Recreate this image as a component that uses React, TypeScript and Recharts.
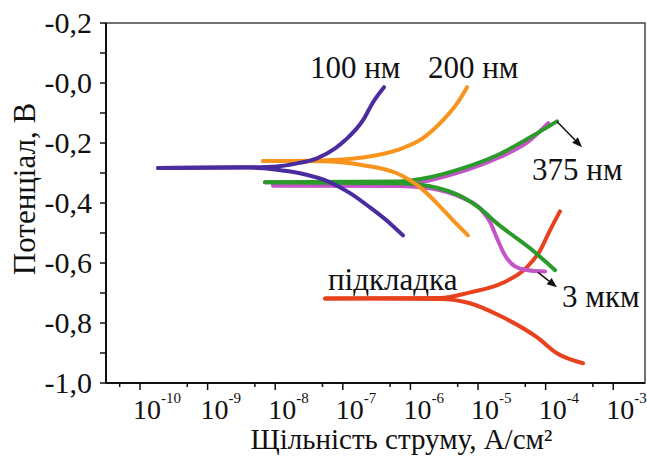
import React from 'react';
import { LineChart, Line, XAxis, YAxis, ReferenceArea, ReferenceDot, ReferenceLine, Label } from 'recharts';

type Pt = [number, number];

// current density (A/cm2), potential (V)
const blueAnodic: Pt[] = [[1.85e-10, -0.283], [4.2e-9, -0.281], [1.06e-8, -0.278], [2.1e-8, -0.268], [4.15e-8, -0.251], [7.7e-8, -0.218], [1.08e-7, -0.191], [1.99e-7, -0.124], [2.8e-7, -0.064], [4.07e-7, -0.014]];
const blueCathodic: Pt[] = [[1.85e-10, -0.283], [4.2e-9, -0.282], [9.9e-9, -0.288], [2.33e-8, -0.301], [6.5e-8, -0.331], [1.28e-7, -0.367], [2.5e-7, -0.414], [5.0e-7, -0.468], [7.76e-7, -0.508]];

const orangeAnodic: Pt[] = [[6.6e-9, -0.26], [4.6e-8, -0.258], [1.99e-7, -0.248], [6.3e-7, -0.224], [1.53e-6, -0.184], [3.03e-6, -0.124], [4.9e-6, -0.068], [6.9e-6, -0.014]];
const orangeCathodic: Pt[] = [[6.6e-9, -0.26], [4.6e-8, -0.261], [1.99e-7, -0.274], [6.3e-7, -0.301], [1.39e-6, -0.348], [2.47e-6, -0.401], [4.27e-6, -0.458], [7.1e-6, -0.508]];

const greenAnodic: Pt[] = [[7.06e-9, -0.331], [7.0e-7, -0.328], [1.95e-6, -0.314], [6.0e-6, -0.284], [1.91e-5, -0.241], [5.9e-5, -0.181], [1.47e-4, -0.128]];
const greenCathodic: Pt[] = [[7.06e-9, -0.331], [7.0e-7, -0.334], [1.95e-6, -0.344], [6.0e-6, -0.381], [1.07e-5, -0.418], [1.91e-5, -0.468], [5.9e-5, -0.551], [1.38e-4, -0.624]];

const violetAnodic: Pt[] = [[9.3e-9, -0.342], [7.0e-7, -0.340], [1.95e-6, -0.324], [6.0e-6, -0.294], [1.91e-5, -0.251], [5.9e-5, -0.191], [1.09e-4, -0.134]];
const violetCathodic: Pt[] = [[9.3e-9, -0.342], [7.0e-7, -0.343], [1.95e-6, -0.351], [6.0e-6, -0.384], [1.07e-5, -0.418], [1.51e-5, -0.464], [1.91e-5, -0.518], [2.5e-5, -0.574], [3.5e-5, -0.611], [5.5e-5, -0.624], [9.8e-5, -0.628]];

const redAnodic: Pt[] = [[5.46e-8, -0.718], [2.74e-6, -0.717], [7.6e-6, -0.698], [2.34e-5, -0.666], [5.3e-5, -0.614], [8.3e-5, -0.558], [1.16e-4, -0.491], [1.63e-4, -0.428]];
const redCathodic: Pt[] = [[5.46e-8, -0.718], [2.74e-6, -0.72], [7.6e-6, -0.734], [2.34e-5, -0.781], [7.5e-5, -0.848], [1.47e-4, -0.901], [3.57e-4, -0.934]];

const xDomain = [3.14e-11, 2.95e-3];
const xMajorTicks = [1e-10, 1e-9, 1e-8, 1e-7, 1e-6, 1e-5, 1e-4, 1e-3];
const xExponents = ['-10', '-9', '-8', '-7', '-6', '-5', '-4', '-3'];
const xMinorTicks = [5e-11, 5e-10, 5e-9, 5e-8, 5e-7, 5e-6, 5e-5, 5e-4];

const yDomain = [-1, 0.2];
const yMajorTicks = [-1, -0.8, -0.6, -0.4, -0.2, 0, 0.2];
const yTickLabels = ['-1,0', '-0,8', '-0,6', '-0,4', '-0,2', '-0,0', '-0,2'];
const yMinorTicks = [-0.9, -0.7, -0.5, -0.3, -0.1, 0.1];

const curveNames = ['підкладка', '3 мкм', '375 нм', '200 нм', '100 нм'];
const curveColors = ['#e8411e', '#c455c6', '#2b9a2b', '#f7941d', '#4a2c9e'];
const curveBranches = [
  [redAnodic, redCathodic],
  [violetAnodic, violetCathodic],
  [greenAnodic, greenCathodic],
  [orangeAnodic, orangeCathodic],
  [blueAnodic, blueCathodic],
];

const noteTexts = ['100 нм', '200 нм', '375 нм', 'підкладка', '3 мкм'];
const notePoints: Pt[] = [[3.27e-8, 0.016], [1.82e-6, 0.016], [6.3e-5, -0.324], [6.04e-8, -0.691], [1.75e-4, -0.747]];

const arrowFrom: Pt[] = [[1.47e-4, -0.128], [7.7e-5, -0.631]];
const arrowTo: Pt[] = [[3.45e-4, -0.214], [1.47e-4, -0.681]];

const serif = { fontFamily: "'Liberation Serif', 'DejaVu Serif', serif" };
const rows = (pts: Pt[]) => pts.map(([i, e]) => ({ i, e }));

const XTick = (props: any) => {
  const { x, y, payload } = props;
  const idx = xMajorTicks.indexOf(payload.value);
  const major = idx >= 0;
  return (
    <g>
      <line x1={x} x2={x} y1={y} y2={y + (major ? 7 : 4)} stroke="#111" strokeWidth={1.5} />
      {major && (
        <text x={x - 7} y={y + 36} style={serif} fontSize={28} fill="#111">
          <tspan>10</tspan>
          <tspan dy={-16} fontSize={15}>{xExponents[idx]}</tspan>
        </text>
      )}
    </g>
  );
};

const YTick = (props: any) => {
  const { x, y, payload } = props;
  const idx = yMajorTicks.indexOf(payload.value);
  return (
    <g>
      <line x1={x - 6} x2={x} y1={y} y2={y} stroke="#111" strokeWidth={1.5} />
      {idx >= 0 && (
        <text x={x - 14} y={y + 10} textAnchor="end" style={serif} fontSize={30} fill="#111">
          {yTickLabels[idx]}
        </text>
      )}
    </g>
  );
};

const Arrow = (props: any) => {
  const { x1, y1, x2, y2 } = props;
  const a = Math.atan2(y2 - y1, x2 - x1);
  const len = 10;
  const w = 4;
  const bx = x2 - len * Math.cos(a);
  const by = y2 - len * Math.sin(a);
  const px = -Math.sin(a) * w;
  const py = Math.cos(a) * w;
  return (
    <g>
      <line x1={x1} y1={y1} x2={bx} y2={by} stroke="#111" strokeWidth={1.5} />
      <polygon points={`${x2},${y2} ${bx + px},${by + py} ${bx - px},${by - py}`} fill="#111" />
    </g>
  );
};

export default function App() {
  return (
    <div style={{ position: 'absolute', left: 0, top: 0, background: '#fff', ...serif }}>
      <LineChart width={647} height={457} margin={{ top: 23, right: 2, left: 0, bottom: 0 }}>
        <XAxis
          dataKey="i"
          type="number"
          scale="log"
          domain={xDomain}
          allowDataOverflow
          ticks={[...xMinorTicks, ...xMajorTicks].sort((a, b) => a - b)}
          tick={XTick}
          tickLine={false}
          tickSize={0}
          tickMargin={0}
          height={74}
          axisLine={{ stroke: '#111', strokeWidth: 2 }}
          interval={0}
        >
          <Label
            content={(p: any) => (
              <text
                x={p.viewBox.x + p.viewBox.width / 2 + 26}
                y={p.viewBox.y + 66}
                textAnchor="middle"
                style={serif}
                fontSize={29}
                fill="#111"
              >
                Щільність струму, А/см²
              </text>
            )}
          />
        </XAxis>
        <YAxis
          type="number"
          domain={yDomain}
          allowDataOverflow
          ticks={[...yMinorTicks, ...yMajorTicks].sort((a, b) => a - b)}
          tick={YTick}
          tickLine={false}
          tickSize={0}
          tickMargin={0}
          width={106}
          axisLine={{ stroke: '#111', strokeWidth: 2 }}
          interval={0}
        >
          <Label
            content={(p: any) => {
              const cx = 35;
              const cy = p.viewBox.y + p.viewBox.height / 2 - 14;
              return (
                <text
                  x={cx}
                  y={cy}
                  transform={`rotate(-90, ${cx}, ${cy})`}
                  textAnchor="middle"
                  style={serif}
                  fontSize={31}
                  fill="#111"
                >
                  Потенціал, В
                </text>
              );
            }}
          />
        </YAxis>
        <ReferenceArea
          x1={xDomain[0]}
          x2={xDomain[1]}
          y1={yDomain[0]}
          y2={yDomain[1]}
          fill="none"
          stroke="#444"
          strokeWidth={1.5}
          ifOverflow="visible"
        />
        {curveBranches.map((branches, c) =>
          branches.map((pts, b) => (
            <Line
              key={`${curveNames[c]}-${b}`}
              data={rows(pts)}
              dataKey="e"
              type="monotone"
              stroke={curveColors[c]}
              strokeWidth={4}
              strokeLinecap="round"
              dot={false}
              activeDot={false}
              isAnimationActive={false}
            />
          ))
        )}
        {arrowFrom.map((f, k) => (
          <ReferenceLine
            key={`arrow-${k}`}
            segment={[{ x: f[0], y: f[1] }, { x: arrowTo[k][0], y: arrowTo[k][1] }]}
            shape={Arrow}
            ifOverflow="visible"
          />
        ))}
        {notePoints.map((p, k) => (
          <ReferenceDot
            key={`note-${k}`}
            x={p[0]}
            y={p[1]}
            r={0}
            ifOverflow="visible"
            shape={(s: any) => (
              <text x={s.cx} y={s.cy} style={serif} fontSize={31} fill="#111">
                {noteTexts[k]}
              </text>
            )}
          />
        ))}
      </LineChart>
    </div>
  );
}
